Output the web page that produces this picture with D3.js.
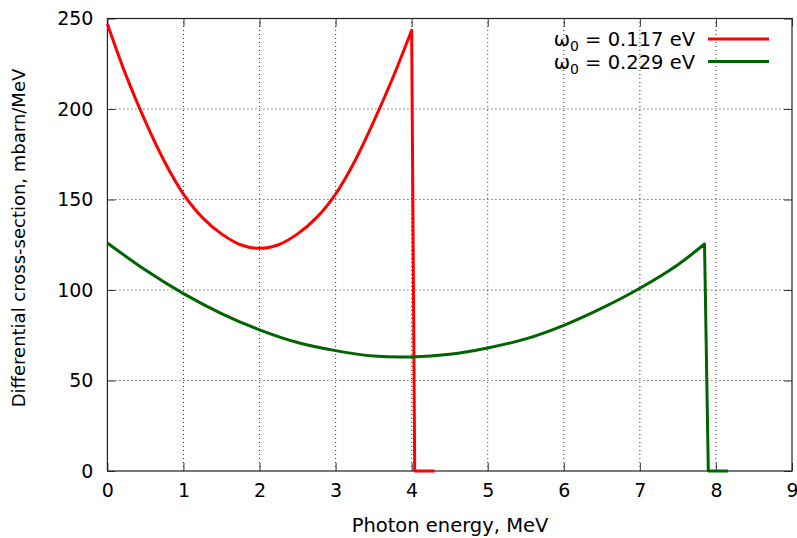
<!DOCTYPE html>
<html><head><meta charset="utf-8">
<script src="https://cdn.jsdelivr.net/npm/d3@7"></script>
<style>body{margin:0;background:#fff}svg{display:block}text{font-family:"DejaVu Sans",sans-serif}</style>
</head><body>
<script>
const xTicks = [0,1,2,3,4,5,6,7,8,9];
const yTicks = [0,50,100,150,200,250];
const redX = [0,0.25,0.5,0.75,1,1.25,1.5,1.75,2,2.25,2.5,2.75,3,3.25,3.5,3.75,4.0,4.04,4.3];
const redY = [247,218,193,171,153,140,131,125,123,125,131,140,153,171,193,217,243.5,0,0];
const greenX = [0,0.5,1,1.5,2,2.5,3,3.5,4,4.5,5,5.5,6,6.5,7,7.5,7.85,7.9,8.16];
const greenY = [126,111,98,87,78,71,66.5,63.5,63,64.5,68,73,80.5,90,101,114,125.4,0,0];
const seriesNames = ["0.117 eV","0.229 eV"];
const colors = ["#ff0000","#006400"];

const W=797,H=538,m={l:107.4,r:5,t:18.5,b:67};
const svg=d3.select("body").append("svg").attr("width",W).attr("height",H);
const x=d3.scaleLinear().domain([0,9]).range([m.l,W-m.r]);
const y=d3.scaleLinear().domain([0,250]).range([H-m.b,m.t]);

// grid
const g=svg.append("g");
g.selectAll(".gx").data(xTicks.slice(1,-1)).join("line")
 .attr("x1",d=>x(d)).attr("x2",d=>x(d)).attr("y1",y(0)).attr("y2",y(250))
 .attr("stroke","#333").attr("stroke-width",1).attr("stroke-dasharray","1,3");
g.selectAll(".gy").data(yTicks.slice(1,-1)).join("line")
 .attr("y1",d=>y(d)).attr("y2",d=>y(d)).attr("x1",x(0)).attr("x2",x(9))
 .attr("stroke","#333").attr("stroke-width",1).attr("stroke-dasharray","1,3");

// axes with inward ticks
const ax=(gen,tr)=>svg.append("g").attr("transform",tr).call(gen).call(s=>s.select(".domain").remove());
ax(d3.axisBottom(x).tickValues(xTicks).tickSize(-8).tickPadding(13).tickFormat(d3.format("d")),`translate(0,${y(0)})`);
ax(d3.axisTop(x).tickValues(xTicks).tickSize(-8).tickFormat(""),`translate(0,${y(250)})`);
ax(d3.axisLeft(y).tickValues(yTicks).tickSize(-8).tickPadding(14),`translate(${x(0)},0)`);
ax(d3.axisRight(y).tickValues(yTicks).tickSize(-8).tickFormat(""),`translate(${x(9)},0)`);
svg.selectAll(".tick text").attr("font-size",19).attr("fill","#000").style("font-family","'DejaVu Sans',sans-serif");
svg.selectAll(".tick line").attr("stroke","#333");

// border
svg.append("rect").attr("x",x(0)).attr("y",y(250)).attr("width",x(9)-x(0)).attr("height",y(0)-y(250))
 .attr("fill","none").attr("stroke","#222").attr("stroke-width",1.2);

// smooth part (all but the last two points) + straight drop segment
const smooth=d3.line().x(d=>x(d[0])).y(d=>y(d[1])).curve(d3.curveCatmullRom.alpha(0.5));
const straight=d3.line().x(d=>x(d[0])).y(d=>y(d[1]));
const series=[d3.zip(redX,redY),d3.zip(greenX,greenY)];
series.forEach((s,i)=>{
 const n=s.length;
 const p1=smooth(s.slice(0,n-2));
 const p2=straight(s.slice(n-3));
 svg.append("path").attr("d",p1+p2.replace(/^M/,"L")).attr("fill","none")
  .attr("stroke",colors[i]).attr("stroke-width",3).attr("stroke-linejoin","round");
});

// legend
seriesNames.forEach((n,i)=>{
 const yy=39+i*22.5;
 const t=svg.append("text").attr("x",695).attr("y",yy+7).attr("text-anchor","end").attr("font-size",19.5).attr("fill","#000");
 t.append("tspan").text("ω");
 t.append("tspan").attr("font-size",14).attr("dy",5).text("0");
 t.append("tspan").attr("dy",-5).text(" = "+n);
 svg.append("line").attr("x1",708).attr("x2",769).attr("y1",yy).attr("y2",yy).attr("stroke",colors[i]).attr("stroke-width",3);
});

// axis labels
svg.append("text").attr("x",450).attr("y",532).attr("text-anchor","middle").attr("font-size",19.5).attr("fill","#000").text("Photon energy, MeV");
svg.append("text").attr("transform",`translate(25,238) rotate(-90)`).attr("text-anchor","middle").attr("font-size",18).attr("fill","#000").text("Differential cross-section, mbarn/MeV");
</script>
</body></html>
